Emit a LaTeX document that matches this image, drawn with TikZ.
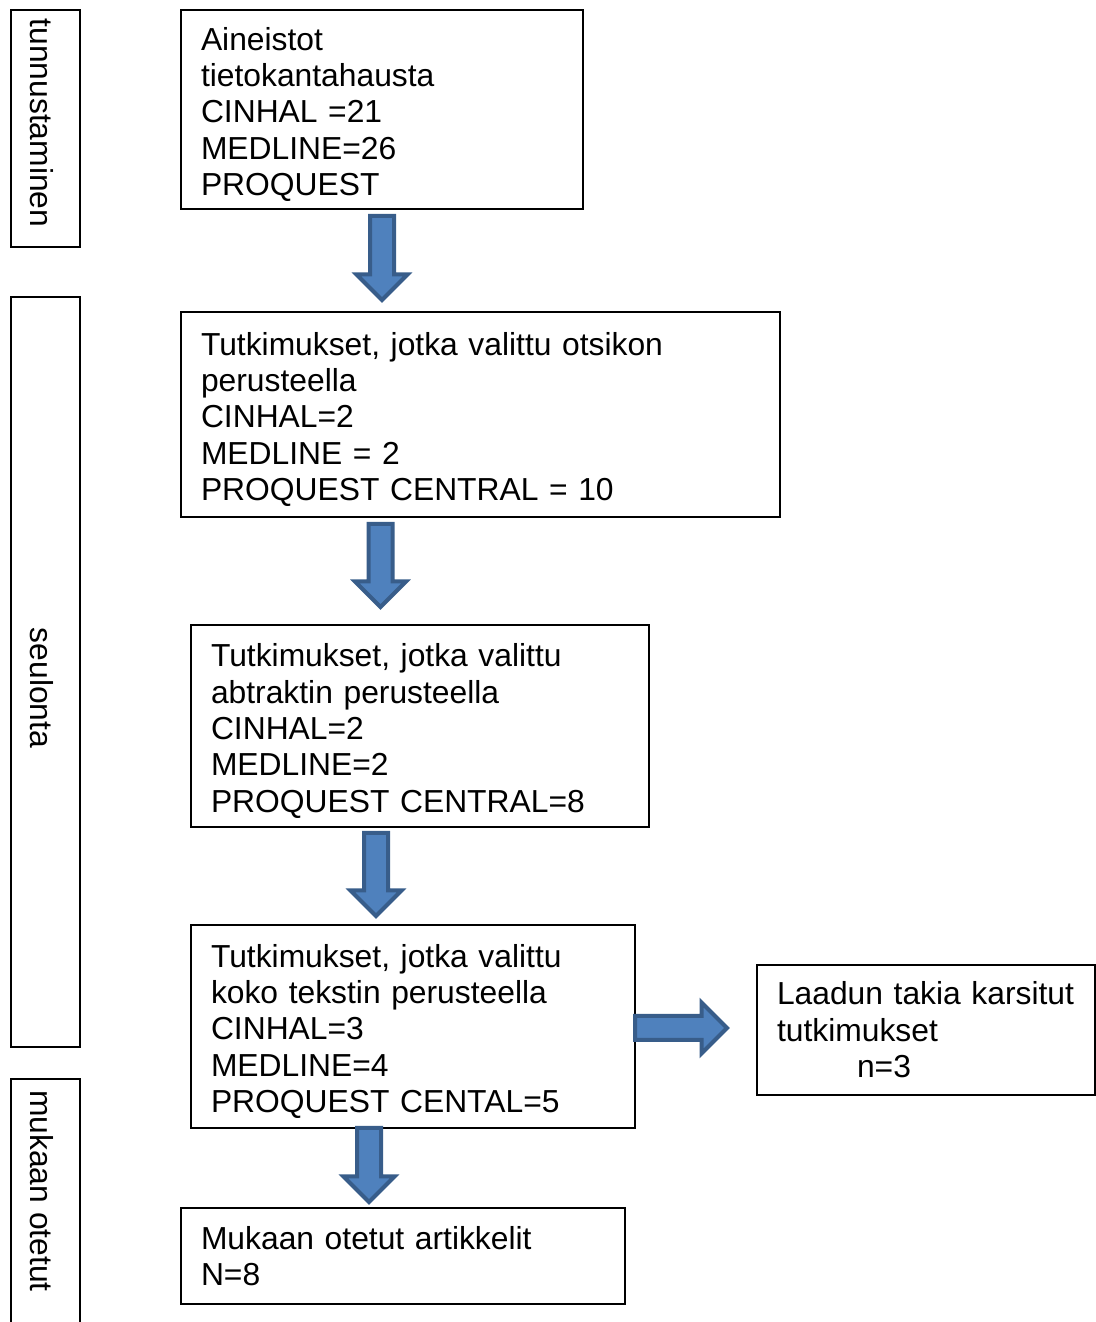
\documentclass[tikz,border=0pt]{standalone}
\usepackage{fontspec}
\setmainfont{Liberation Sans}
\usetikzlibrary{shapes.arrows}

\definecolor{arrowfill}{HTML}{4F81BD}
\definecolor{arrowline}{HTML}{385D8A}

% taller first line, pushes the text block a little down in its box
\newcommand{\firstline}{\rule{0pt}{0.660000cm}}

\tikzset{
  flowbox/.style={draw=black, line width=0.030000cm, inner xsep=0.400000cm, inner ysep=0cm, align=left},
  sidelabel/.style={inner sep=0cm, rotate=-90},
  blockarrow/.style={single arrow, fill=arrowfill, draw=arrowline, line width=0.080000cm,
    inner xsep=0cm, inner ysep=0.200000cm, single arrow head extend=0.270000cm,
    single arrow tip angle=90}
}

\begin{document}
\begin{tikzpicture}
                    \useasboundingbox (0,0) rectangle (21.920000,26.440000);
                    {\fontsize{18.1}{20.75}\selectfont

                    % Drawing side box tunnustaminen
                    \draw [line width=0.030000cm] (0.220000,21.500000) rectangle (1.600000,26.240000);%
                    \node [sidelabel] (tunnustaminen) at (0.830000,23.980000) {tunnustaminen};%

                    % Drawing side box seulonta
                    \draw [line width=0.030000cm] (0.220000,5.500000) rectangle (1.600000,20.500000);%
                    \node [sidelabel] (seulonta) at (0.830000,12.680000) {seulonta};%

                    % Drawing side box mukaan otetut (open at the bottom)
                    \draw [line width=0.030000cm] (0.220000,-0.100000) -- (0.220000,4.860000) -- (1.600000,4.860000) -- (1.600000,-0.100000);%
                    \node [sidelabel] (mukaan) at (0.830000,2.620000) {mukaan otetut};%

                    % Drawing box aineistot
                    \node [flowbox, text width=7.240000cm, minimum height=3.980000cm] (aineistot) at (7.640000,24.250000)
                      {\firstline Aineistot\\tietokantahausta\\CINHAL =21\\MEDLINE=26\\PROQUEST};%

                    % Drawing box otsikko
                    \node [flowbox, text width=11.180000cm, minimum height=4.100000cm] (otsikko) at (9.610000,18.150000)
                      {\firstline Tutkimukset, jotka valittu otsikon\\perusteella\\CINHAL=2\\MEDLINE = 2\\PROQUEST CENTRAL = 10};%

                    % Drawing box abstrakti
                    \node [flowbox, text width=8.360000cm, minimum height=4.040000cm] (abstrakti) at (8.400000,11.920000)
                      {\firstline Tutkimukset, jotka valittu\\abtraktin perusteella\\CINHAL=2\\MEDLINE=2\\PROQUEST CENTRAL=8};%

                    % Drawing box kokoteksti
                    \node [flowbox, text width=8.080000cm, minimum height=4.060000cm] (kokoteksti) at (8.260000,5.910000)
                      {\firstline Tutkimukset, jotka valittu\\koko tekstin perusteella\\CINHAL=3\\MEDLINE=4\\PROQUEST CENTAL=5};%

                    % Drawing box karsitut
                    \node [flowbox, text width=5.960000cm, minimum height=2.600000cm] (karsitut) at (18.520000,5.840000)
                      {Laadun takia karsitut\\tutkimukset\\\hspace*{1.600000cm}n=3};%

                    % Drawing box mukaan otetut
                    \node [flowbox, text width=8.080000cm, minimum height=1.920000cm] (artikkelit) at (8.060000,1.320000)
                      {Mukaan otetut artikkelit\\N=8};%

                    % Drawing arrow aineistot -> otsikko
                    \node [blockarrow, minimum height=1.680000cm, rotate=-90] (arrowA) at (7.640000,21.400000) {};%

                    % Drawing arrow otsikko -> abstrakti
                    \node [blockarrow, minimum height=1.660000cm, rotate=-90] (arrowB) at (7.610000,15.250000) {};%

                    % Drawing arrow abstrakti -> kokoteksti
                    \node [blockarrow, minimum height=1.660000cm, rotate=-90] (arrowC) at (7.520000,9.070000) {};%

                    % Drawing arrow kokoteksti -> artikkelit
                    \node [blockarrow, minimum height=1.480000cm, rotate=-90] (arrowD) at (7.380000,3.260000) {};%

                    % Drawing arrow kokoteksti -> karsitut
                    \node [blockarrow, minimum height=1.840000cm] (arrowE) at (13.500000,5.880000) {};%
                    }
\end{tikzpicture}
\end{document}
